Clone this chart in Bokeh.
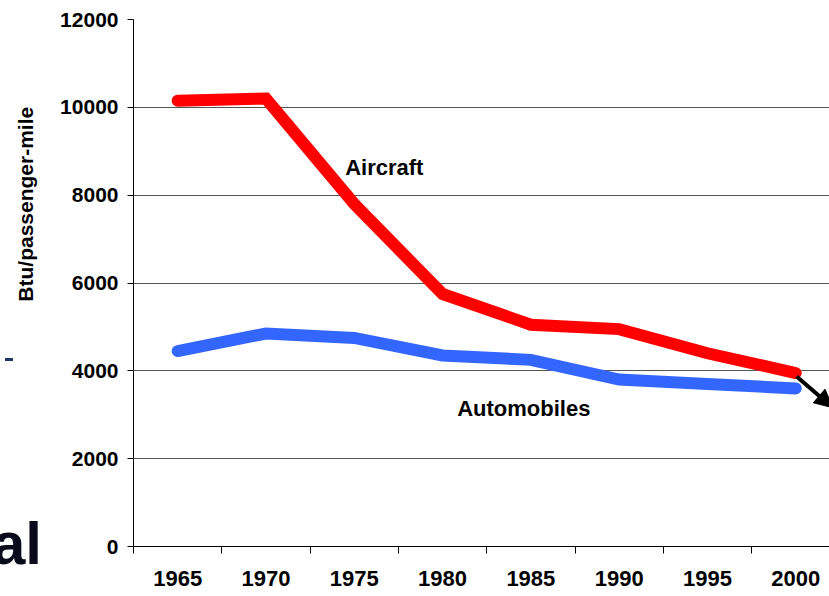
from bokeh.plotting import figure
from bokeh.models import Range1d, FixedTicker, Label, Arrow, NormalHead, ColumnDataSource, Div
from bokeh.layouts import column
from bokeh.embed import file_html
from bokeh.resources import INLINE

years = [1965, 1970, 1975, 1980, 1985, 1990, 1995, 2000]
aircraft = [10150, 10200, 7800, 5750, 5050, 4950, 4400, 3950]
automobiles = [4450, 4850, 4750, 4350, 4250, 3800, 3700, 3600]
y_ticks = [0, 2000, 4000, 6000, 8000, 10000, 12000]

FONT = "Liberation Sans"
step = years[1] - years[0]
x0 = years[0] - step / 2

p = figure(width=829, height=595, output_backend="svg", toolbar_location=None,
           x_range=Range1d(x0, x0 + step * 696 / 88.3), y_range=Range1d(0, 12000),
           min_border_left=133, min_border_top=19, min_border_bottom=49, min_border_right=0)
p.outline_line_color = None
p.background_fill_color = "white"
p.border_fill_color = "white"

src = ColumnDataSource(dict(year=years, aircraft=aircraft, automobiles=automobiles))
p.line("year", "automobiles", source=src, line_color="#3366FF", line_width=12,
       line_cap="round", line_join="miter")
p.line("year", "aircraft", source=src, line_color="#FF0000", line_width=12,
       line_cap="round", line_join="miter")

# x axis: labels at centers, tick marks at boundaries
p.xaxis.ticker = FixedTicker(ticks=years, minor_ticks=[y - step / 2 for y in years])
p.xaxis.major_tick_out = 0
p.xaxis.major_tick_in = 0
p.xaxis.minor_tick_out = 7
p.xaxis.minor_tick_in = 0
p.xaxis.minor_tick_line_color = "black"
p.xaxis.major_label_standoff = 17
p.xaxis.axis_line_color = "black"
p.xaxis.major_label_text_font_size = "22px"

p.yaxis.ticker = FixedTicker(ticks=y_ticks, minor_ticks=[])
p.yaxis.major_tick_out = 6
p.yaxis.major_tick_in = 0
p.yaxis.major_label_standoff = 9
p.yaxis.axis_line_color = "black"
p.yaxis.major_label_text_font_size = "21px"
# leading no-break spaces shift the (centred) title upwards, as in the reference
p.yaxis.axis_label = "\u00a0" * 27 + "Btu/passenger-mile"
p.yaxis.axis_label_text_font = FONT
p.yaxis.axis_label_text_font_style = "bold"
p.yaxis.axis_label_text_font_size = "21px"
p.yaxis.axis_label_text_color = "black"
p.yaxis.axis_label_standoff = 20

for ax in (p.xaxis, p.yaxis):
    ax.major_label_text_font = FONT
    ax.major_label_text_font_style = "bold"
    ax.major_label_text_color = "black"

p.xgrid.grid_line_color = None
p.ygrid.ticker = FixedTicker(ticks=y_ticks)
p.ygrid.grid_line_color = "#555555"
p.ygrid.grid_line_width = 1

p.add_layout(Label(x=1976.7, y=8630, text="Aircraft", text_font=FONT, text_font_style="bold",
                   text_font_size="22px", text_align="center", text_baseline="middle", text_color="black"))
p.add_layout(Label(x=1984.6, y=3142, text="Automobiles", text_font=FONT, text_font_style="bold",
                   text_font_size="22px", text_align="center", text_baseline="middle", text_color="black"))

p.add_layout(Arrow(end=NormalHead(size=18, fill_color="black", line_color="black"),
                   x_start=years[-1] + 0.05, y_start=aircraft[-1] - 80,
                   x_end=years[-1] + 2.1, y_end=aircraft[-1] - 790,
                   line_color="black", line_width=4))

# slide fragments at the left edge (part of the slide title and a rule)
frag = Div(text='<div style="position:absolute;left:13px;top:-156px;width:8px;height:3px;'
                'background:#1c3766"></div>al',
           width=1, height=1,
           styles={"position": "absolute", "left": "-13px", "top": "509px",
                   "font-size": "60px", "font-family": "Liberation Sans", "font-weight": "bold",
                   "color": "#0a0a1a", "line-height": "60px", "overflow": "visible",
                   "z-index": "5", "white-space": "nowrap"})

layout = column(p, frag)
open("out.html", "w").write(file_html(layout, INLINE))
